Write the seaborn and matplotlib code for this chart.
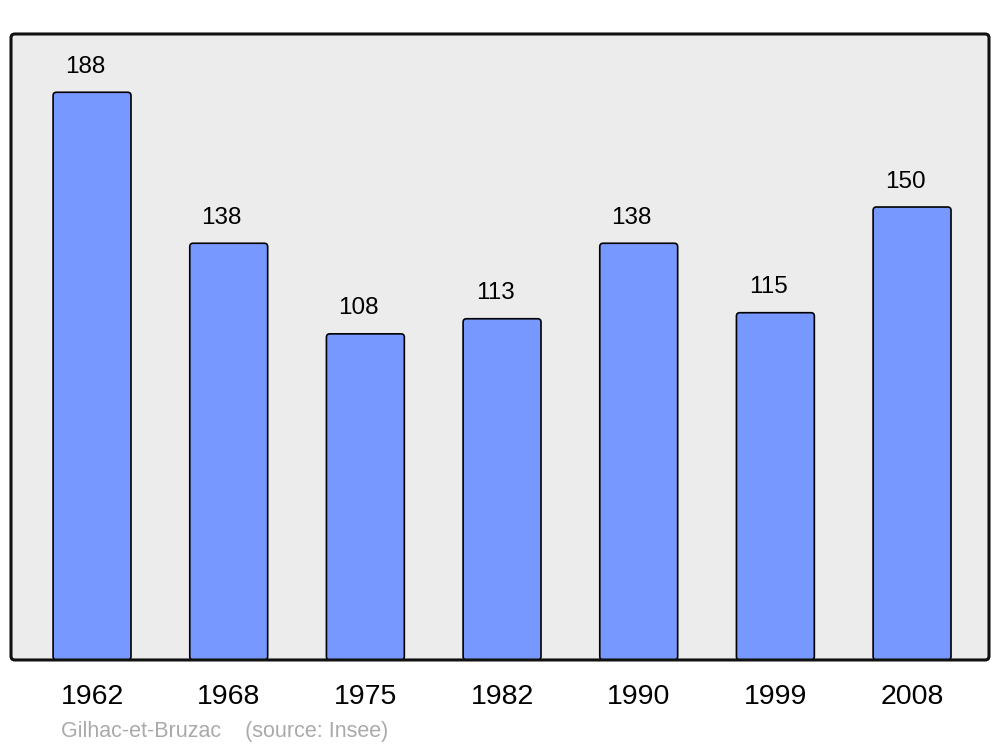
import seaborn as sns
from matplotlib import pyplot as plt
from matplotlib.patches import FancyBboxPatch
import pandas as pd

years = ['1962', '1968', '1975', '1982', '1990', '1999', '2008']
population = [188, 138, 108, 113, 138, 115, 150]
commune = 'Gilhac-et-Bruzac'
source = '(source: Insee)'

sns.set_theme(style='white')
plt.rcParams['font.family'] = ['Liberation Sans', 'DejaVu Sans']

df = pd.DataFrame({'year': years, 'pop': population})

fig = plt.figure(figsize=(10, 7.47), dpi=100)
ax = fig.add_axes([0.011, 0.1165, 0.978, 0.838])
ax.set_facecolor('#ececec')

sns.barplot(data=df, x='year', y='pop', order=years, color='#7799ff',
            saturation=1, width=0.57, edgecolor='black', linewidth=1.2, ax=ax)

ax.set_xlim(-0.593, 6.563)
ax.set_ylim(0, 207.3)

# swap plain rectangles for slightly rounded ones
aspect = (0.978 * 1000 / 7.156) / (0.838 * 747 / 207.3)
for bar in list(ax.patches):
    x, y = bar.get_x(), bar.get_y()
    w, h = bar.get_width(), bar.get_height()
    rb = FancyBboxPatch((x, y), w, h, boxstyle='round,pad=0,rounding_size=0.025',
                        mutation_aspect=aspect, facecolor='#7799ff',
                        edgecolor='black', linewidth=1.2, zorder=2)
    ax.add_patch(rb)
    bar.remove()

for i, v in enumerate(population):
    ax.annotate(str(v), (i, v), xytext=(-5, 14), textcoords='offset points',
                ha='center', va='baseline', fontsize=17.5, color='black')

for s in ax.spines.values():
    s.set_visible(False)
frame = FancyBboxPatch((0, 0), 1, 1, boxstyle='round,pad=0,rounding_size=0.004',
                       mutation_aspect=978 / 626, transform=ax.transAxes,
                       facecolor='none', edgecolor='#111111', linewidth=2.2,
                       clip_on=False, zorder=5)
ax.add_patch(frame)

ax.set_xlabel('')
ax.set_ylabel('')
ax.set_yticks([])
ax.tick_params(axis='x', length=0, pad=17, labelsize=20.5, labelcolor='black')

fig.text(0.061, 1 - 737 / 747, commune + '    ' + source, fontsize=15.5,
         color='#aaaaaa', va='baseline', ha='left')

fig.savefig('out.png', dpi=100, facecolor='white')
